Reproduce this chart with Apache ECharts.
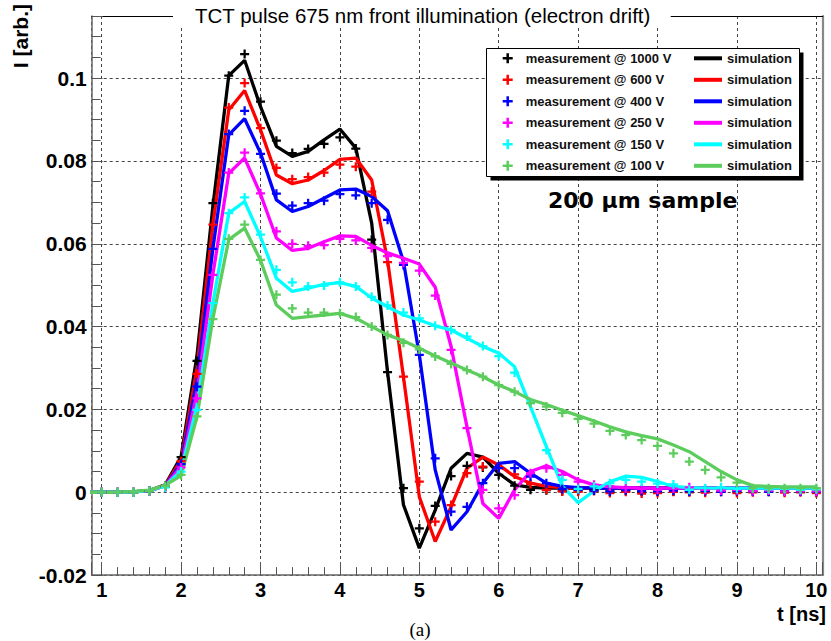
<!DOCTYPE html>
<html>
<head>
<meta charset="utf-8">
<script src="https://cdn.jsdelivr.net/npm/echarts@6/dist/echarts.min.js"></script>
<style>html,body{margin:0;padding:0;background:#fff}#c{width:831px;height:641px}</style>
</head>
<body>
<div id="c"></div>
<script>
// time grids (ns)
const tSim = [0.8,1.0,1.2,1.4,1.6,1.8,2.0,2.2,2.4,2.6,2.8,3.0,3.2,3.4,3.6,3.8,4.0,4.2,4.4,4.6,4.8,5.0,5.2,5.4,5.6,5.8,6.0,6.2,6.4,6.6,6.8,7.0,7.2,7.4,7.6,7.8,8.0,8.2,8.4,8.6,8.8,9.0,9.2,9.4,9.6,9.8,10.0];
const tMeas = [1.0,1.2,1.4,1.6,1.8,2.0,2.2,2.4,2.6,2.8,3.0,3.2,3.4,3.6,3.8,4.0,4.2,4.4,4.6,4.8,5.0,5.2,5.4,5.6,5.8,6.0,6.2,6.4,6.6,6.8,7.0,7.2,7.4,7.6,7.8,8.0,8.2,8.4,8.6,8.8,9.0,9.2,9.4,9.6,9.8,10.0];

const voltages = ['1000', '600', '400', '250', '150', '100'];
const colors = ['#000000', '#ff0000', '#0000ff', '#ff00ff', '#00ffff', '#5ccd5c'];

// measurement @ 1000 V
const meas1000 = [
 0, 0, 0, 0.0003, 0.0015,
 0.0085, 0.0317, 0.0698, 0.1006, 0.1058,
 0.0943, 0.0849, 0.0819, 0.0829, 0.0841,
 0.0857, 0.083, 0.061, 0.029, 0.001,
 -0.0087, -0.0033, 0.0039, 0.0064, 0.006,
 0.0042, 0.0016, 0.0006, 0.0005, 0.0003,
 0.0004, 0.0005, 0.0002, 0.0004, 0.0001,
 0.0003, 0.0002, 0.0001, 0.0003, 0.0002,
 0.0001, 0.0003, 0.0002, 0.0001, 0.0002,
 0.0001];
const sim1000 = [
 0, 0, 0, 0.0001, 0.0004, 0.0018,
 0.0086, 0.033, 0.069, 0.1006, 0.1043,
 0.0931, 0.0835, 0.0811, 0.0823, 0.0851,
 0.0877, 0.0831, 0.065, 0.029, -0.003,
 -0.0135, -0.0043, 0.0058, 0.0094, 0.0085,
 0.0046, 0.0018, 0.0012, 0.001, 0.001,
 0.001, 0.001, 0.001, 0.001, 0.001,
 0.001, 0.001, 0.001, 0.001, 0.001,
 0.001, 0.001, 0.001, 0.001, 0.001,
 0.001];

const meas600 = [
 0, 0, 0, 0.0003, 0.0014,
 0.0075, 0.0286, 0.0646, 0.0929, 0.0988,
 0.0879, 0.0783, 0.0756, 0.0761, 0.0772,
 0.0791, 0.0786, 0.0726, 0.0556, 0.0279,
 0.0026, -0.0071, -0.0031, 0.0046, 0.0062,
 0.0058, 0.0043, 0.002, 0.0006, 0.0002,
 0.0001, 0.0003, -0.0002, 0.0001, -0.0003,
 -0.0002, 0.0001, 0, -0.0001, 0.0001,
 -0.0002, 0, 0.0001, -0.0001, 0,
 -0.0002];
const sim600 = [
 0, 0, 0, 0.0001, 0.0004, 0.0017,
 0.0078, 0.030, 0.0646, 0.0923, 0.097,
 0.0875, 0.0766, 0.0745, 0.0754, 0.0777,
 0.0804, 0.0807, 0.0754, 0.056, 0.0279,
 -0.0011, -0.0119, -0.0035, 0.0058, 0.0085,
 0.0066, 0.0038, 0.0022, 0.0014, 0.0011,
 0.001, 0.001, 0.001, 0.001, 0.001,
 0.001, 0.001, 0.001, 0.001, 0.001,
 0.001, 0.001, 0.001, 0.001, 0.001,
 0.001];

const meas400 = [
 0, 0, 0, 0.0003, 0.0013,
 0.0068, 0.0255, 0.0588, 0.0865, 0.0921,
 0.0817, 0.0721, 0.0692, 0.0698, 0.0704,
 0.072, 0.0717, 0.0698, 0.0658, 0.0549,
 0.0332, 0.0082, -0.0047, -0.0035, 0.0022,
 0.0058, 0.0058, 0.0038, 0.0022, 0.0008,
 0.0006, 0.0004, 0.0002, 0.0005, 0.0003,
 0.0002, 0.0004, 0.0002, 0.0003, 0.0001,
 0.0003, 0.0002, 0.0001, 0.0003, 0.0002,
 0.0001];
const sim400 = [
 0, 0, 0, 0.0001, 0.0004, 0.0016,
 0.007, 0.027, 0.0588, 0.0863, 0.0902,
 0.0819, 0.0706, 0.0678, 0.069, 0.071,
 0.073, 0.0732, 0.0714, 0.068, 0.0557,
 0.0332, 0.0054, -0.0091, -0.0047, 0.0022,
 0.007, 0.0074, 0.0046, 0.0022, 0.0014,
 0.0011, 0.001, 0.001, 0.001, 0.001,
 0.001, 0.001, 0.001, 0.001, 0.001,
 0.001, 0.001, 0.001, 0.001, 0.001,
 0.001];

const meas250 = [
 0, 0, 0, 0.0003, 0.0013,
 0.006, 0.0227, 0.0525, 0.0772, 0.082,
 0.0722, 0.063, 0.06, 0.0595, 0.0597,
 0.0612, 0.0608, 0.059, 0.057, 0.0554,
 0.0535, 0.0475, 0.0344, 0.0155, 0.0006,
 -0.0039, -0.0007, 0.0046, 0.0058, 0.0042,
 0.0026, 0.0018, 0.0014, 0.001, 0.0008,
 0.0006, 0.0009, 0.0012, 0.0006, 0.0004,
 0.0005, 0.0003, 0.0004, 0.0002, 0.0003,
 0.0002];
const sim250 = [
 0, 0, 0, 0.0001, 0.0004, 0.0016,
 0.0062, 0.024, 0.0525, 0.077, 0.0807,
 0.072, 0.0614, 0.0584, 0.0589, 0.0605,
 0.0619, 0.0618, 0.0596, 0.0578, 0.0565,
 0.0551, 0.0495, 0.0352, 0.0158, -0.0027,
 -0.0063, 0.0006, 0.005, 0.0064, 0.005,
 0.003, 0.0018, 0.0013, 0.0011, 0.001,
 0.001, 0.001, 0.001, 0.001, 0.001,
 0.001, 0.001, 0.001, 0.001, 0.001,
 0.001];

const meas150 = [
 0, 0, 0, 0.0003, 0.0012,
 0.005, 0.0199, 0.0457, 0.0674, 0.0712,
 0.0622, 0.0537, 0.0507, 0.0497, 0.0499,
 0.0507, 0.0497, 0.0472, 0.0451, 0.0434,
 0.042, 0.0402, 0.0392, 0.0376, 0.0353,
 0.0329, 0.0289, 0.0215, 0.0102, 0.003,
 0.0008, 0.0014, 0.0022, 0.003, 0.0026,
 0.0021, 0.0019, 0.0006, 0.001, 0.0012,
 0.0008, 0.0009, 0.0007, 0.0008, 0.0006,
 0.0007];
const sim150 = [
 0, 0, 0, 0.0001, 0.0004, 0.0016,
 0.0052, 0.021, 0.0457, 0.0674, 0.0702,
 0.0617, 0.0517, 0.0485, 0.0493, 0.0502,
 0.0506, 0.0497, 0.0469, 0.0448, 0.0428,
 0.0416, 0.0402, 0.0392, 0.0372, 0.0352,
 0.0336, 0.0303, 0.0207, 0.011, 0.0015,
 -0.0025, 0.0003, 0.0025, 0.0039, 0.0036,
 0.0026, 0.0014, 0.0011, 0.001, 0.001,
 0.001, 0.001, 0.001, 0.001, 0.001,
 0.001];

const meas100 = [
 0, 0, 0, 0.0003, 0.0015,
 0.0042, 0.0183, 0.0418, 0.0612, 0.0646,
 0.0561, 0.0477, 0.0444, 0.0434, 0.0434,
 0.0432, 0.0423, 0.04, 0.038, 0.0361,
 0.0345, 0.0328, 0.031, 0.0295, 0.0279,
 0.0259, 0.0243, 0.0215, 0.0207, 0.0192,
 0.0177, 0.0166, 0.0148, 0.0138, 0.0126,
 0.0112, 0.0094, 0.0074, 0.0054, 0.0036,
 0.0023, 0.001, 0.001, 0.001, 0.001,
 0.001];
const sim100 = [
 0, 0, 0, 0.0002, 0.0005, 0.0017,
 0.004, 0.0183, 0.0419, 0.061, 0.0638,
 0.056, 0.0452, 0.042, 0.0424, 0.0428,
 0.0432, 0.042, 0.04, 0.038, 0.0366,
 0.0348, 0.0329, 0.0312, 0.0295, 0.0279,
 0.0259, 0.0243, 0.0224, 0.0212, 0.0198,
 0.0185, 0.0172, 0.0158, 0.0146, 0.0137,
 0.0129, 0.0114, 0.0098, 0.0074, 0.005,
 0.003, 0.0016, 0.0014, 0.0013, 0.0013,
 0.0013];

const measAll = [meas1000, meas600, meas400, meas250, meas150, meas100];
const simAll = [sim1000, sim600, sim400, sim250, sim150, sim100];

const titleText = 'TCT pulse 675 nm front illumination (electron drift)';
const yTitle = 'I [arb.]';
const xTitle = 't [ns]';
const sampleText = '200 \u03bcm sample';
const captionText = '(a)';

const plusPath = 'path://M3,0H5V3H8V5H5V8H3V5H0V3H3Z';
const SANS = 'Liberation Sans, Arial, Helvetica, sans-serif';

const zip = (xs, ys) => xs.map((x, i) => [x, ys[i]]);

const measNames = voltages.map(v => 'measurement @ ' + v + ' V');
const simNames = voltages.map(v => 'simulation ' + v);

const series = [];
voltages.forEach((v, i) => {
  series.push({
    type: 'line', name: simNames[i], data: zip(tSim, simAll[i]),
    symbol: 'none', showSymbol: false, clip: true, z: 2 + i * 0.01,
    lineStyle: { width: 3.3, color: colors[i] }, itemStyle: { color: colors[i] },
    silent: true
  });
});
voltages.forEach((v, i) => {
  series.push({
    type: 'scatter', name: measNames[i], data: zip(tMeas, measAll[i]),
    symbol: plusPath, symbolSize: 9, z: 3, clip: true,
    itemStyle: { color: colors[i], opacity: 1 }, silent: true
  });
});

const chart = echarts.init(document.getElementById('c'), null, { renderer: 'svg', width: 831, height: 641 });
chart.setOption({
  animation: false,
  backgroundColor: '#fff',
  title: {
    text: titleText, left: 173, top: 4, backgroundColor: '#fff',
    padding: [1, 20, 1, 22], z: 20,
    textStyle: { fontFamily: SANS, fontSize: 20.5, fontWeight: 'normal', color: '#000' }
  },
  grid: { left: 91.7, right: 8.3, top: 16, bottom: 65.9, containLabel: false, outerBoundsMode: 'none' },
  xAxis: [{
    type: 'value', min: 0.874, max: 10.08, splitNumber: 9, position: 'bottom',
    axisLine: { show: true, onZero: false, lineStyle: { color: '#666', width: 1.5 } },
    axisTick: { show: true, inside: true, length: 13, lineStyle: { color: '#555', width: 1 } },
    minorTick: { show: true, splitNumber: 5, length: 8, lineStyle: { color: '#555', width: 1 } },
    axisLabel: {
      showMinLabel: false, showMaxLabel: false, margin: 5,
      fontFamily: SANS, fontWeight: 'bold', fontSize: 20, color: '#000',
      formatter: v => (Math.abs(v - Math.round(v)) < 1e-6 ? String(Math.round(v)) : '')
    },
    splitLine: { show: true, lineStyle: { color: '#444', type: [3, 3], width: 1 } },
    minorSplitLine: { show: false }
  }, {
    type: 'value', min: 0.874, max: 10.08, position: 'top',
    axisLine: { show: true, onZero: false, lineStyle: { color: '#000', width: 1.2 } },
    axisTick: { show: false }, axisLabel: { show: false }, splitLine: { show: false }
  }],
  yAxis: [{
    type: 'value', min: -0.02, max: 0.115, interval: 0.02, position: 'left',
    axisLine: { show: true, onZero: false, lineStyle: { color: '#666', width: 1.5 } },
    axisTick: { show: true, inside: true, length: 11, lineStyle: { color: '#555', width: 1 } },
    minorTick: { show: true, splitNumber: 4, length: 9, lineStyle: { color: '#555', width: 1 } },
    axisLabel: {
      showMaxLabel: false, margin: 5,
      fontFamily: SANS, fontWeight: 'bold', fontSize: 21, color: '#000',
      formatter: v => {
        const k = v / 0.02;
        if (Math.abs(k - Math.round(k)) > 1e-6) return '';
        const r = Math.round(k) * 0.02;
        return String(parseFloat(r.toFixed(4)));
      }
    },
    splitLine: { show: true, lineStyle: { color: '#444', type: [3, 3], width: 1 } }
  }, {
    type: 'value', min: -0.02, max: 0.115, position: 'right',
    axisLine: { show: true, onZero: false, lineStyle: { color: '#888', width: 2.2 } },
    axisTick: { show: false }, axisLabel: { show: false }, splitLine: { show: false }
  }],
  legend: [{
    data: measNames.map(n => ({ name: n, icon: plusPath })),
    orient: 'vertical', left: 502.7, top: 51.3, padding: 0,
    itemWidth: 10, itemHeight: 10, itemGap: 7.5, selectedMode: false, z: 30,
    textStyle: { fontFamily: SANS, fontWeight: 'bold', fontSize: 13, lineHeight: 14, color: '#111', padding: [0, 0, 0, 8] }
  }, {
    data: simNames.map(n => ({ name: n, icon: 'rect' })),
    formatter: () => 'simulation',
    orient: 'vertical', left: 694, top: 51.3, padding: 0,
    itemWidth: 28, itemHeight: 4, itemGap: 7.5, selectedMode: false, z: 30,
    textStyle: { fontFamily: SANS, fontWeight: 'bold', fontSize: 13, lineHeight: 14, color: '#111' }
  }],
  graphic: [
    { type: 'rect', z: 24, shape: { x: 490.5, y: 52.5, width: 313, height: 128 }, style: { fill: '#000' }, silent: true },
    { type: 'rect', z: 25, shape: { x: 486.5, y: 48.5, width: 313, height: 128 }, style: { fill: '#fff', stroke: '#000', lineWidth: 1 }, silent: true },
    { type: 'text', z: 25, x: 548, y: 200, silent: true,
      style: { text: sampleText, fontFamily: 'DejaVu Sans, sans-serif', fontWeight: 'bold', fontSize: 22, fill: '#000', align: 'left', verticalAlign: 'middle' } },
    { type: 'text', z: 25, x: 20, y: 4, rotation: Math.PI / 2, silent: true,
      style: { text: yTitle, fontFamily: SANS, fontWeight: 'bold', fontSize: 21, fill: '#000', align: 'right', verticalAlign: 'middle' } },
    { type: 'text', z: 25, x: 826, y: 614, silent: true,
      style: { text: xTitle, fontFamily: SANS, fontWeight: 'bold', fontSize: 20, fill: '#000', align: 'right', verticalAlign: 'middle' } },
    { type: 'text', z: 25, x: 420, y: 629, silent: true,
      style: { text: captionText, fontFamily: 'Liberation Serif, DejaVu Serif, serif', fontSize: 19, fill: '#000', align: 'center', verticalAlign: 'middle' } }
  ],
  series: series
});
</script>
</body>
</html>
